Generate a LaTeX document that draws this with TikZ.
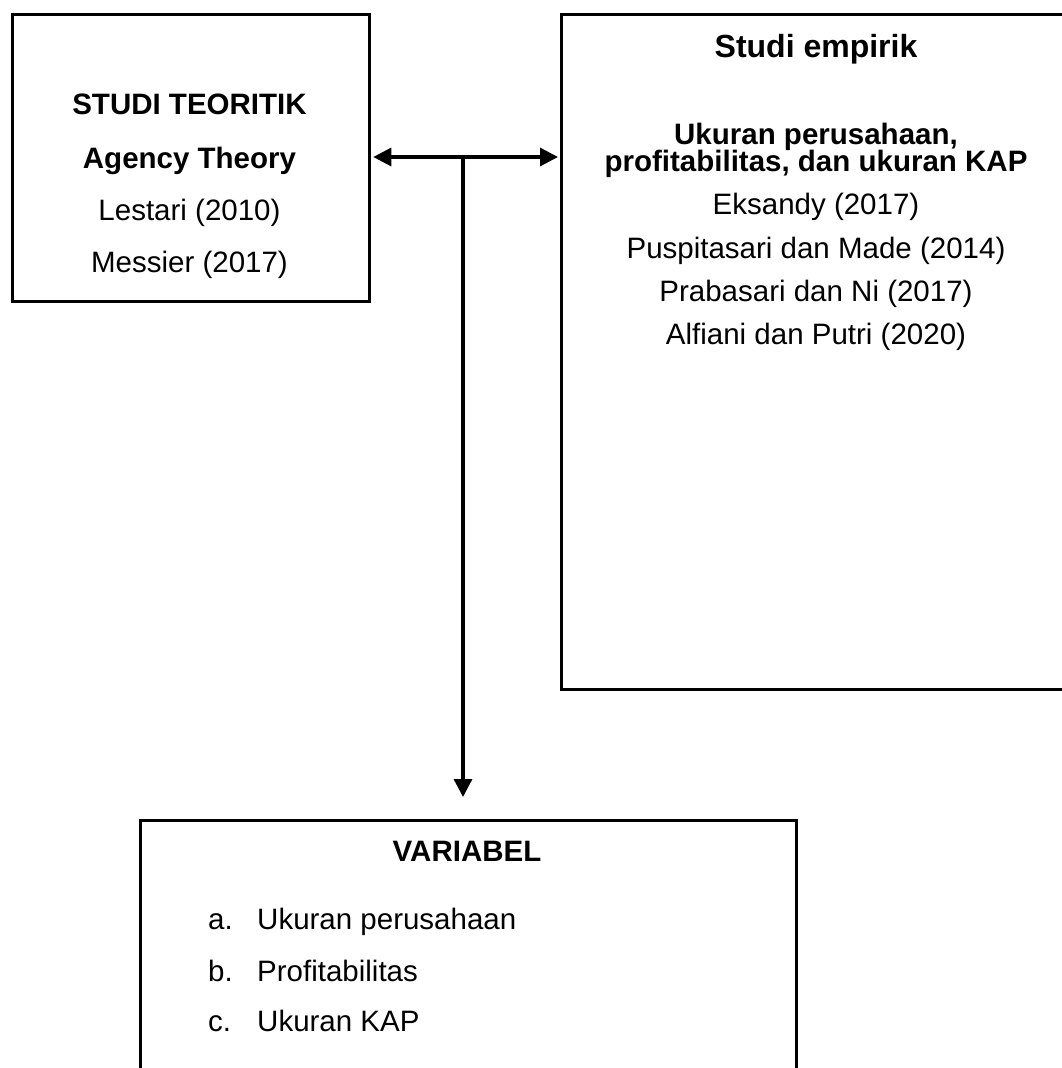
\documentclass[tikz,border=0pt]{standalone}
\usepackage{fontspec}
\setmainfont{Liberation Sans}
\usetikzlibrary{arrows.meta}
\tikzset{
  frame/.style={draw=black, line width=3.3pt, fill=none, inner sep=0pt, anchor=north west},
  txt/.style={anchor=base, inner sep=0pt, font=\fontsize{29.5}{35}\selectfont},
  bold/.style={txt, font=\fontsize{29.5}{35}\selectfont\bfseries},
  tip/.tip={Triangle[length=18pt,width=18pt]},
  conn/.style={line width=3.3pt, -tip},
}
\begin{document}
\begin{tikzpicture}[x=1pt,y=-1pt]
\useasboundingbox (0,0) rectangle (1062,1068);
% boxes
\node[frame, minimum width=357pt, minimum height=287pt] (teo) at (11,13) {};
\node[frame, minimum width=512pt, minimum height=675pt] (emp) at (560,13) {};
\node[frame, minimum width=656pt, minimum height=300pt] (var) at (139,819) {};
% left box texts
\node[bold] (t1) at (189.5,114) {STUDI TEORITIK};
\node[bold] (t2) at (189.5,168) {Agency Theory};
\node[txt] (t3) at (189.5,220) {Lestari (2010)};
\node[txt] (t4) at (189.5,272) {Messier (2017)};
% right box texts
\node[bold, font=\fontsize{32}{38}\selectfont\bfseries] (e1) at (816,57) {Studi empirik};
\node[bold] (e2) at (816,144) {Ukuran perusahaan,};
\node[bold] (e3) at (816,171) {profitabilitas, dan ukuran KAP};
\node[txt] (e4) at (816,214) {Eksandy (2017)};
\node[txt] (e5) at (816,258) {Puspitasari dan Made (2014)};
\node[txt] (e6) at (816,301) {Prabasari dan Ni (2017)};
\node[txt] (e7) at (816,344) {Alfiani dan Putri (2020)};
% bottom box texts
\node[bold] (v0) at (467,861) {VARIABEL};
\node[txt, anchor=base west] (va) at (208,929) {a.};
\node[txt, anchor=base west] (vb) at (208,981) {b.};
\node[txt, anchor=base west] (vc) at (208,1031) {c.};
\node[txt, anchor=base west] (vat) at (257,929) {Ukuran perusahaan};
\node[txt, anchor=base west] (vbt) at (257,981) {Profitabilitas};
\node[txt, anchor=base west] (vct) at (257,1031) {Ukuran KAP};
% connectors
\coordinate (j) at (463,157);
\coordinate (l) at (teo.east |- j);
\coordinate (r) at (emp.west |- j);
\draw[conn, tip-tip, shorten <=2pt, shorten >=2pt] (l) -- (r);
\draw[conn, shorten >=22pt] (j) -- (j |- var.north);
\end{tikzpicture}
\end{document}
